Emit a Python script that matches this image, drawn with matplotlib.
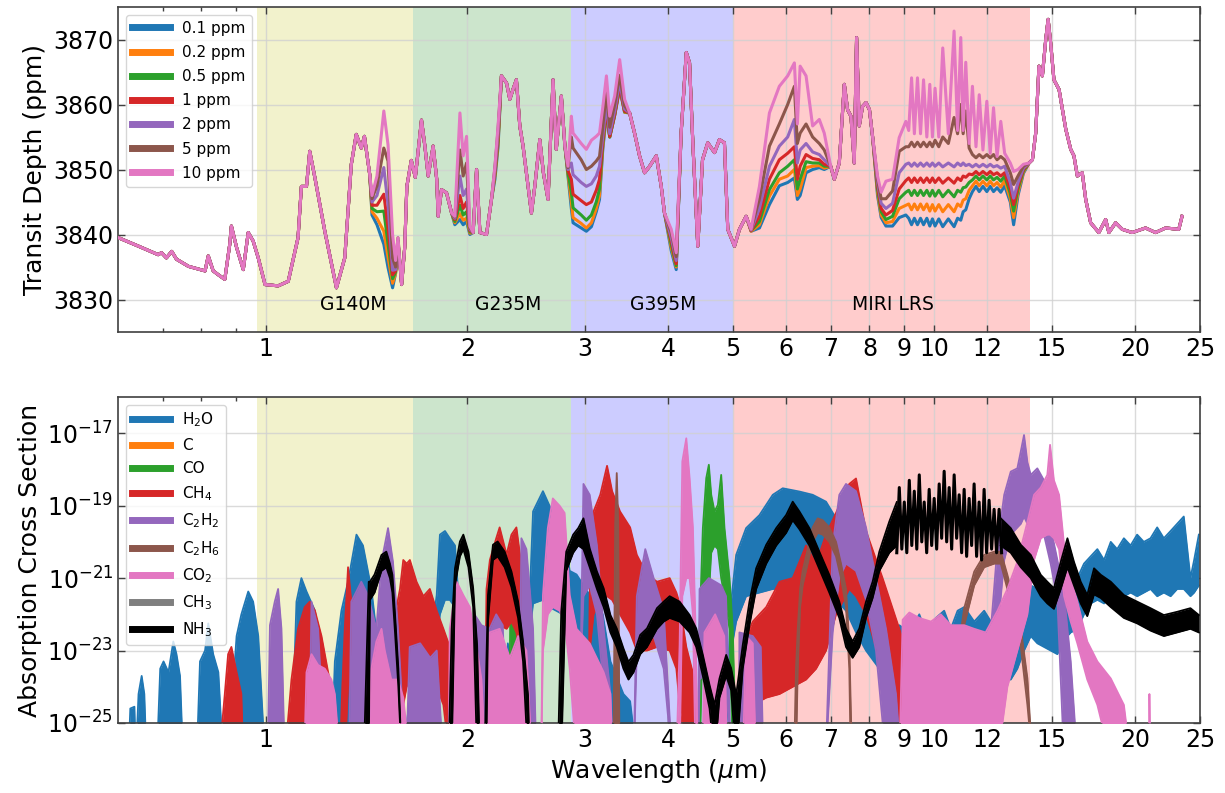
import numpy as np
import matplotlib
matplotlib.use('Agg')
import matplotlib.pyplot as plt
from matplotlib.lines import Line2D
from matplotlib.ticker import FixedLocator, FixedFormatter, NullFormatter, NullLocator

# ---------------- top panel: transit depth (ppm) ----------------
noise_labels = ['0.1 ppm', '0.2 ppm', '0.5 ppm', '1 ppm', '2 ppm', '5 ppm', '10 ppm']
noise_colors = ['#1f77b4', '#ff7f0e', '#2ca02c', '#d62728', '#9467bd', '#8c564b', '#e377c2']

# wavelengths where all seven spectra coincide
wl_common = [0.601, 0.644, 0.689, 0.697, 0.709, 0.722, 0.734, 0.765, 0.810, 0.819,
             0.833, 0.848, 0.867, 0.882, 0.887, 0.903, 0.924, 0.940, 0.956, 0.973,
             0.996, 1.042, 1.079, 1.116, 1.129, 1.149, 1.162, 1.183, 1.224, 1.274,
             1.311, 1.341, 1.364, 1.388, 1.403, 1.429,
             1.595, 1.612, 1.624, 1.649, 1.672, 1.708, 1.728, 1.748, 1.778, 1.800,
             1.809, 1.830, 1.862, 1.895,
             2.041, 2.065, 2.089, 2.137, 2.174,
             2.250, 2.290, 2.316, 2.341, 2.369, 2.397, 2.424, 2.466, 2.495, 2.524,
             2.568, 2.600, 2.642, 2.688, 2.718, 2.766, 2.800,
             3.500, 3.560, 3.622, 3.685, 3.750, 3.837, 3.903, 3.947,
             4.180, 4.255, 4.303, 4.352, 4.427, 4.500, 4.582, 4.690, 4.770, 4.853,
             4.909, 5.024, 5.111, 5.230,
             7.000, 7.087, 7.210, 7.336, 7.419, 7.506, 7.592, 7.653, 7.724, 7.812,
             7.906, 8.000, 8.086,
             13.87, 14.03, 14.19, 14.35, 14.52, 14.69, 14.81, 14.94, 15.11, 15.38,
             15.74, 16.01, 16.19, 16.38, 16.66, 16.86, 17.15, 17.64, 18.06, 18.26,
             18.69, 19.12, 19.79, 20.72, 21.45, 22.20, 23.24, 23.50]
depth_common = [3839.5, 3838.2, 3836.9, 3837.2, 3836.4, 3837.4, 3836.2, 3835.1, 3834.4, 3836.7,
                3834.4, 3833.8, 3833.1, 3838.5, 3841.3, 3838.0, 3834.6, 3840.3, 3839.0, 3836.4,
                3832.3, 3832.1, 3832.8, 3839.5, 3847.4, 3847.4, 3852.8, 3848.7, 3840.5, 3831.8,
                3836.4, 3850.8, 3855.4, 3853.3, 3855.1, 3849.2,
                3832.3, 3838.0, 3847.4, 3851.4, 3848.8, 3857.6, 3853.6, 3849.0, 3853.6, 3848.5,
                3842.8, 3846.9, 3846.4, 3843.3,
                3840.3, 3850.0, 3840.3, 3840.0, 3845.4,
                3864.4, 3863.3, 3860.8, 3862.3, 3863.8, 3856.7, 3853.6, 3847.4, 3843.3, 3847.4,
                3854.6, 3849.5, 3845.4, 3863.8, 3853.1, 3861.3, 3853.6,
                3858.7, 3855.6, 3852.1, 3849.5, 3850.5, 3852.1, 3847.4, 3843.3,
                3855.6, 3868.0, 3866.4, 3854.1, 3838.2, 3851.5, 3854.1, 3852.6, 3854.6, 3854.1,
                3840.8, 3838.2, 3840.8, 3842.8,
                3850.5, 3848.5, 3851.0, 3863.1, 3859.2, 3858.2, 3851.0, 3870.3, 3856.7, 3859.7,
                3860.3, 3859.2, 3855.1,
                3851.0, 3851.5, 3855.6, 3865.9, 3864.4, 3870.0, 3873.1, 3869.5, 3863.8, 3862.3,
                3856.2, 3853.1, 3852.1, 3849.0, 3849.5, 3845.4, 3841.8, 3840.3, 3842.3, 3840.3,
                3841.8, 3840.8, 3840.3, 3841.0, 3840.3, 3841.0, 3840.8, 3842.8]

# wavelengths where the spectra separate
wl_split = [1.440, 1.465, 1.500, 1.522, 1.546, 1.562, 1.575,
            1.916, 1.950, 1.972, 1.995, 2.018,
            2.200, 2.224,
            2.830, 2.863, 2.880, 2.962, 3.015, 3.068, 3.120, 3.155, 3.190, 3.231, 3.268, 3.324, 3.382, 3.440,
            4.040, 4.110,
            5.320, 5.475, 5.667, 5.864, 6.035, 6.176, 6.240, 6.300, 6.430, 6.577, 6.730, 6.846,
            8.226, 8.330, 8.468, 8.663, 8.864, 9.070,
            9.16, 9.25, 9.34, 9.44, 9.54, 9.64, 9.75, 9.85, 9.94, 10.03,
            10.16, 10.30, 10.50, 10.71, 10.84, 10.96, 11.05, 11.15, 11.28, 11.41,
            11.55, 11.68, 11.83, 11.99, 12.13, 12.27, 12.42, 12.58, 12.75, 13.00,
            13.15, 13.35, 13.60]

split_0p1 = [3843, 3841.5, 3838.5, 3834.9, 3831.8, 3834, 3839,
             3841.5, 3842.3, 3841.5, 3842, 3840,
             3848.5, 3853.5,
             3849, 3844, 3841.8, 3841, 3840.5, 3841.2, 3843.5, 3845.4, 3853, 3858.5, 3855, 3858.3, 3862.5, 3858.8,
             3837.5, 3834.6,
             3840.5, 3841, 3844.6, 3847.5, 3848, 3848.7, 3845.4, 3846, 3849.5, 3850, 3850.3, 3850,
             3846, 3842.6, 3841.3, 3841.3, 3842.6, 3843,
             3842.5, 3841.5, 3842.5, 3841.5, 3842.5, 3841.5, 3842.5, 3841.3, 3842.4, 3841.3,
             3842.4, 3841.2, 3842.4, 3841.2, 3842.5, 3842.2, 3843.5, 3843.8, 3845.5, 3846.6,
             3847.4, 3846.6, 3847.4, 3846.6, 3847.4, 3846.6, 3847.2, 3846.5, 3847.5, 3845,
             3841.5, 3846, 3849.4]
split_0p2 = [3843.5, 3842.5, 3840.5, 3836.5, 3832.5, 3834, 3839,
             3841.8, 3843.2, 3842.2, 3842.5, 3840.2,
             3849, 3854,
             3849.3, 3845, 3842.6, 3841.7, 3841, 3841.8, 3844, 3846, 3853.3, 3858.7, 3855, 3858.3, 3862.6, 3858.8,
             3838, 3835,
             3840.5, 3841.5, 3845.9, 3848.5, 3849, 3850, 3846, 3847, 3850.3, 3850.5, 3850.6, 3850.2,
             3846.5, 3843, 3841.8, 3842, 3844, 3844.5,
             3844.7, 3843.8, 3844.7, 3843.8, 3844.7, 3843.8, 3844.7, 3843.6, 3844.6, 3843.6,
             3844.6, 3843.5, 3844.6, 3843.5, 3844.7, 3844.3, 3845.3, 3845.5, 3846.8, 3847.5,
             3848.2, 3847.5, 3848.2, 3847.5, 3848.2, 3847.5, 3848, 3847.3, 3848.3, 3845.5,
             3842.6, 3846.5, 3849.6]
split_0p5 = [3844, 3843.5, 3843.6, 3838.5, 3833.2, 3834.2, 3839,
             3842, 3844.5, 3843, 3843.5, 3840.4,
             3849.3, 3854.5,
             3849.5, 3846.5, 3844.1, 3843, 3842.2, 3843, 3845, 3847, 3853.8, 3859, 3855, 3858.4, 3862.7, 3858.9,
             3838.5, 3835.2,
             3840.6, 3842, 3846.9, 3849.5, 3850.5, 3851.5, 3847, 3848.5, 3851.2, 3851, 3851, 3850.5,
             3847, 3843.5, 3842.3, 3842.8, 3845.5, 3846.5,
             3846.8, 3846, 3846.8, 3846, 3846.8, 3846, 3846.8, 3845.9, 3846.8, 3845.9,
             3846.8, 3845.8, 3846.8, 3845.8, 3846.8, 3846.5, 3847.2, 3847.3, 3848, 3848.4,
             3849, 3848.4, 3849, 3848.4, 3849, 3848.4, 3848.8, 3848.2, 3849, 3846.3,
             3843.6, 3847, 3849.8]
split_1 = [3844.5, 3844.5, 3846.2, 3841, 3833.8, 3834.4, 3839,
           3842.3, 3846, 3844, 3845, 3840.6,
           3849.6, 3855,
           3849.8, 3848.5, 3846.2, 3845.2, 3844.6, 3845, 3846.8, 3848.5, 3854.3, 3859.3, 3855.1, 3858.5, 3862.8, 3859,
           3839, 3835.5,
           3840.6, 3842.8, 3848.5, 3851.5, 3852.5, 3853.5, 3848.5, 3850.5, 3852.3, 3851.7, 3851.5, 3850.8,
           3847.5, 3844, 3843, 3843.7, 3847, 3848.3,
           3848.7, 3848, 3848.7, 3848, 3848.7, 3848, 3848.7, 3848, 3848.7, 3848,
           3848.7, 3847.9, 3848.7, 3847.9, 3848.7, 3848.3, 3849, 3848.8, 3849.3, 3849.2,
           3849.7, 3849.2, 3849.7, 3849.2, 3849.7, 3849.2, 3849.5, 3849, 3849.5, 3847,
           3844.6, 3847.5, 3850]
split_2 = [3845, 3846, 3850.3, 3844.5, 3834.5, 3834.6, 3839,
           3842.5, 3849, 3846, 3847, 3840.8,
           3850, 3855.5,
           3850, 3851, 3849.2, 3848, 3847.4, 3847.8, 3849, 3850.5, 3855, 3860, 3855.5, 3859, 3863.5, 3859.3,
           3839.5, 3836,
           3840.7, 3844, 3850.5, 3853.6, 3855, 3857.7, 3851, 3853, 3854, 3852.7, 3852.3, 3851.5,
           3848, 3844.8, 3844, 3844.8, 3849.5, 3850.8,
           3851, 3850.5, 3851, 3850.5, 3851, 3850.5, 3851, 3850.5, 3851, 3850.5,
           3851, 3850.4, 3851, 3850.4, 3851, 3850.6, 3851, 3850.6, 3850.8, 3850.4,
           3850.8, 3850.4, 3850.8, 3850.4, 3850.8, 3850.4, 3850.6, 3850.2, 3850.5, 3848,
           3845.6, 3848, 3850.2]
split_5 = [3845.5, 3847.5, 3853.3, 3851.3, 3836.4, 3835, 3839.5,
           3842.7, 3853, 3849, 3851, 3841,
           3850.3, 3856.2,
           3850.3, 3855, 3853.3, 3851.5, 3850, 3850.5, 3851.3, 3852, 3856.5, 3862, 3856.5, 3860, 3864.5, 3859.8,
           3840.3, 3836.6,
           3840.8, 3845.5, 3853.6, 3857, 3860, 3862.8, 3854, 3855.6, 3857, 3855, 3854, 3853,
           3848.5, 3845.5, 3845.5, 3846.7, 3852.8, 3853.5,
           3853.5, 3854.2, 3853.5, 3854.2, 3853.5, 3854.2, 3853.5, 3854.2, 3853.5, 3854.5,
           3853.5, 3855, 3854, 3858, 3855.5, 3860, 3855.5, 3859, 3853.3, 3852.3,
           3851.8, 3852.3, 3851.8, 3852.3, 3851.8, 3852.3, 3851.5, 3852, 3851.5, 3849.5,
           3847.7, 3849, 3850.5]
split_10 = [3846, 3849, 3859, 3853.8, 3840, 3836, 3839.5,
            3842.8, 3858.7, 3852.1, 3855.1, 3841.3,
            3850.5, 3856.7,
            3850.5, 3858.2, 3855.6, 3854, 3853.1, 3854.5, 3855.1, 3855.6, 3859.5, 3864.4, 3858.2, 3861.3, 3866.9, 3860.8,
            3840.8, 3837.2,
            3840.8, 3847.4, 3858.7, 3862.8, 3864.4, 3866.4, 3857, 3865.9, 3864.4, 3856.7, 3857.7, 3855.6,
            3849, 3846.5, 3848.2, 3848.5, 3854.9, 3857.4,
            3856, 3864.1, 3855.5, 3864.1, 3855.5, 3863.8, 3855, 3863.1, 3855, 3862.5,
            3855, 3868.7, 3855.5, 3871.3, 3856, 3870.3, 3856, 3866.5, 3854, 3862.8,
            3853.5, 3861.5, 3853, 3860.5, 3852.5, 3859.5, 3852, 3857.4, 3852.5, 3851,
            3849.7, 3850, 3850.8]
split_series = [split_0p1, split_0p2, split_0p5, split_1, split_2, split_5, split_10]

band_edges = [0.97, 1.66, 2.86, 5.0, 13.9]
band_colors = ['y', 'g', 'b', 'r']
band_names = ['G140M', 'G235M', 'G395M', 'MIRI LRS']
band_label_x = [1.35, 2.30, 3.93, 8.66]

# ---------------- bottom panel: log10 cross sections ----------------
F = -26.0  # below the axis floor

h2o_wl = [0.600, 0.622, 0.626, 0.635, 0.638, 0.644, 0.651, 0.657, 0.662, 0.686,
          0.694, 0.702, 0.714, 0.726, 0.734, 0.743, 0.751, 0.787, 0.796, 0.810,
          0.819, 0.833, 0.848, 0.862, 0.882, 0.893, 0.903, 0.918, 0.940, 0.956,
          0.973, 0.996, 1.091, 1.110, 1.129, 1.149, 1.183, 1.210, 1.252, 1.267,
          1.296, 1.326, 1.365, 1.396, 1.437, 1.470, 1.505, 1.600, 1.679, 1.758,
          1.800, 1.820, 1.852, 1.883, 1.917, 1.939, 1.960, 2.000, 2.270, 2.300,
          2.340, 2.380, 2.460, 2.481, 2.509, 2.596, 2.655, 2.718, 2.781, 2.847,
          2.915, 3.050, 3.190, 3.276, 3.426, 3.506, 3.588, 4.850, 4.967, 5.053,
          5.229, 5.476, 5.733, 5.933, 6.284, 6.578, 6.888, 7.130, 7.379, 7.638,
          7.906, 8.277, 8.665, 8.867, 9.18, 9.50, 9.77, 10.06, 10.35, 10.59,
          10.84, 11.09, 11.48, 11.88, 12.16, 12.44, 12.73, 13.02, 13.32, 13.63,
          13.95, 14.27, 14.60, 14.94, 15.29, 15.65, 16.01, 16.38, 16.76, 17.15,
          17.55, 17.96, 18.38, 18.79, 19.23, 19.68, 20.13, 20.60, 21.08, 21.57,
          22.07, 22.59, 23.11, 23.64, 24.19, 24.50, 24.90]
h2o_hi = [F, F, -24.6, -24.55, F, -24.2, -23.7, -24.2, F, F,
          -23.5, -23.3, -23.6, -22.75, -23.1, -23.7, F, F, -23.3, -23.0,
          -22.25, -23.1, -23.6, F, F, -23.9, -22.6, -22.0, -21.37, -21.65,
          -22.6, F, F, -21.65, -21.0, -21.37, -21.9, -23.1, F, -23.3,
          -21.9, -21.1, -19.8, -20.1, -21.3, -22.85, -24.2, F, -22.75, -22.9,
          -21.47, -19.8, -19.7, -19.9, -20.1, -21.47, -23.5, F, F, -22.8,
          -23.5, F, F, -21.47, -19.16, -18.6, -19.0, -19.45, -19.6, -20.8,
          -20.9, -21.47, -22.0, -23.3, -24.2, -24.4, F, F, -21.65, -20.36,
          -19.62, -19.26, -18.7, -18.52, -18.61, -18.7, -18.89, -19.35, -20.08, -21.0,
          -21.65, -22.2, -22.85, -22.3, -22.5, -22.0, -22.6, -22.1, -21.9, -22.4,
          -21.9, -21.8, -22.2, -21.9, -22.2, -21.9, -21.9, -22.3, -21.8, -21.5,
          -21.2, -21.3, -21.1, -21.5, -21.6, -21.2, -20.8, -21.0, -20.6, -20.4,
          -20.2, -20.5, -20.0, -20.2, -19.9, -20.1, -19.8, -20.0, -19.9, -19.6,
          -19.9, -19.7, -19.5, -19.3, -21.0, -20.5, -19.8]
h2o_lo = [F] * 50 + [
          -22.8, -22.0, -21.6, -21.6, -21.8, -22.6, F, F, F, F,
          F, F, F, -22.5, -21.7, -21.6, -21.8, -21.9, -22.0, -22.4,
          -23.2, -23.3, -23.5, F, F, F, F, F, -23.0, -22.2,
          -21.5, -21.4, -21.3, -21.3, -21.3, -21.3, -21.4, -21.6, -21.9, -22.5,
          -23.0, -23.5, -23.8, -24.0, -24.3, -24.5, -24.6, -24.4, -24.5, -24.6,
          -24.4, -24.3, -24.5, -24.3, -24.2, -24.0, -23.8, -23.8, -23.5, -23.0,
          -22.6, -22.8, -22.9, -23.0, -23.1, -22.7, -22.5, -22.4, -22.0, -21.7,
          -21.6, -21.7, -21.5, -21.6, -21.5, -21.4, -21.5, -21.4, -21.3, -21.5,
          -21.4, -21.5, -21.3, -21.3, -21.5, -21.4, -21.2]

c_wl, c_hi, c_lo = [], [], []
ch3_wl, ch3_hi, ch3_lo = [], [], []

co_wl = [2.310, 2.320, 2.342, 2.369, 2.410, 2.430, 4.430, 4.454, 4.505, 4.558,
         4.599, 4.637, 4.690, 4.744, 4.799, 4.854, 4.938, 4.994, 5.053]
co_hi = [F, -21.65, -21.7, -22.6, -24.2, F, F, -22.4, -19.62, -18.24,
         -17.87, -18.7, -19.16, -18.98, -18.15, -19.62, -21.0, -22.39, F]
co_lo = [F, F, F, F, F, F, F, F, -22.5, -21.5,
         -21.47, -20.3, -20.1, -20.2, -21.0, -21.5, -22.4, F, F]

ch4_wl = [0.850, 0.867, 0.877, 0.887, 0.903, 0.918, 0.924, 1.066, 1.091, 1.116,
          1.142, 1.162, 1.183, 1.210, 1.238, 1.267, 1.289, 1.300, 1.311, 1.326,
          1.341, 1.365, 1.388, 1.412, 1.437, 1.470, 1.520, 1.560, 1.586, 1.604,
          1.623, 1.641, 1.679, 1.719, 1.758, 1.800, 1.842, 1.883, 1.930, 2.120,
          2.137, 2.162, 2.210, 2.236, 2.290, 2.329, 2.369, 2.424, 2.481, 2.520,
          3.030, 3.050, 3.091, 3.163, 3.238, 3.295, 3.386, 3.506, 3.588, 3.716,
          3.846, 4.018, 4.112, 4.158, 4.255, 4.378, 4.428, 5.110, 5.169, 5.351,
          5.605, 5.867, 6.141, 6.430, 6.656, 6.888, 7.130, 7.463, 7.638, 7.906,
          8.370, 8.867, 9.180, 9.720]
ch4_hi = [F, -24.2, -23.1, -22.9, -23.6, -24.2, F, F, -23.8, -22.4,
          -21.8, -21.65, -21.9, -22.6, -23.6, -24.5, F, -24.0, -22.4, -20.7,
          -21.65, -21.5, -21.9, -21.65, -22.4, -22.6, -22.8, -22.0, -21.3, -20.5,
          -20.6, -20.5, -21.1, -21.5, -21.3, -21.9, -22.4, -22.9, F, F,
          -21.3, -20.5, -19.9, -19.6, -20.35, -19.8, -19.6, -21.0, -21.93, F,
          F, -21.47, -19.16, -18.7, -17.9, -18.6, -19.16, -19.6, -20.36, -20.9,
          -21.1, -21.0, -21.4, -21.7, -22.9, -23.8, F, F, -22.85, -22.2,
          -21.8, -21.1, -21.0, -20.1, -20.6, -19.8, -19.2, -18.4, -18.25, -19.7,
          -21.0, -22.4, -23.3, F]
ch4_lo = [F, F, F, F, F, F, F, F, F, F,
          -25.0, -24.8, -24.8, -25.0, F, F, F, F, F, -24.0,
          -23.8, -23.6, -23.8, -24.0, -24.5, F, F, F, -25.0, -24.5,
          -24.0, -23.8, -23.5, -23.6, -23.8, -24.0, -24.5, F, F, F,
          -24.0, -23.0, -22.5, -22.3, -22.4, -22.2, -22.5, -23.5, F, F,
          F, -23.0, -22.0, -21.6, -21.5, -21.6, -22.0, -22.5, -23.0, -23.0,
          -22.9, -23.0, -23.5, -24.5, F, F, F, F, F, -24.5,
          -24.3, -24.2, -24.0, -23.8, -23.5, -23.0, -22.0, -21.3, -21.5, -22.0,
          -23.5, -25.0, F, F]

c2h2_wl = [1.005, 1.013, 1.030, 1.042, 1.054, 1.066, 1.160, 1.169, 1.196, 1.210,
           1.224, 1.330, 1.341, 1.388, 1.420, 1.462, 1.488, 1.522, 1.548, 1.575,
           1.595, 1.620, 1.640, 1.700, 1.760, 1.800, 1.840, 2.030, 2.050, 2.100,
           2.160, 2.210, 2.260, 2.300, 2.390, 2.410, 2.452, 2.509, 2.538, 2.940,
           2.967, 2.985, 3.050, 3.127, 3.200, 3.276, 3.310, 3.550, 3.588, 3.694,
           3.802, 3.936, 4.050, 4.430, 4.454, 4.600, 4.800, 4.880, 4.960, 5.100,
           5.110, 5.350, 5.500, 5.550, 6.880, 7.047, 7.211, 7.379, 7.638, 7.906,
           8.182, 8.470, 8.766, 8.920, 11.50, 11.88, 12.16, 12.44, 12.73, 13.02,
           13.32, 13.48, 13.63, 13.79, 13.95, 14.27, 14.60, 14.94, 15.29, 15.65,
           16.01, 16.38]
c2h2_hi = [F, -22.3, -21.65, -21.3, -22.4, F, F, -21.65, -22.4, -24.2,
           F, F, -21.65, -21.1, -21.47, -22.4, -20.55, -19.62, -20.55, -22.4,
           -24.2, F, -22.9, -22.8, -23.2, -23.0, F, F, -22.0, -22.3,
           -22.4, -22.0, -22.3, F, F, -19.9, -20.2, -22.4, F, F,
           -21.47, -18.4, -18.7, -20.1, -22.4, -24.2, F, F, -21.5, -20.2,
           -21.0, -21.9, F, F, -21.3, -21.0, -21.2, -21.5, F, F,
           -22.5, -22.6, -22.9, F, F, -20.1, -18.7, -18.4, -18.6, -19.6,
           -21.0, -22.4, -24.2, F, F, -24.2, -22.4, -20.1, -18.7, -18.06,
           -17.97, -17.5, -17.05, -17.8, -18.15, -17.97, -18.3, -19.6, -20.5, -21.47,
           -23.3, F]
c2h2_lo = [F, F, F, F, F, F, F, F, F, F,
           F, F, F, F, F, F, F, F, F, F,
           F, F, F, F, F, F, F, F, F, F,
           F, F, F, F, F, F, F, F, F, F,
           -22.8, -21.5, -21.2, -22.0, -24.0, F, F, F, -23.0, -22.4,
           -22.6, -23.5, F, F, -23.8, -23.5, -23.5, -23.8, F, F,
           F, F, F, F, F, -22.5, -21.0, -20.6, -20.8, -21.6,
           -23.0, F, F, F, F, F, F, -22.5, -20.5, -19.8,
           -19.6, -19.5, -19.3, -19.5, -19.6, -19.5, -19.8, -20.6, -21.6, F,
           F, F]

c2h6_wl = [3.310, 3.330, 3.348, 3.365, 3.380, 6.170, 6.210, 6.248, 6.300, 6.355,
           6.466, 6.578, 6.693, 6.808, 6.966, 7.130, 7.253, 7.379, 7.463, 7.500,
           7.534, 10.55, 10.70, 10.84, 11.09, 11.48, 11.88, 12.30, 12.58, 12.87,
           13.17, 13.48, 13.79, 14.03]
c2h6_hi = [F, -19.5, -18.1, -19.5, F, F, -23.5, -22.4, -21.3, -20.8,
           -20.2, -19.6, -19.35, -19.4, -19.6, -20.0, -20.6, -21.3, -22.8, -24.5,
           F, F, -24.0, -23.1, -21.83, -20.82, -20.36, -20.27, -20.27, -20.91,
           -21.65, -22.39, -23.77, F]
c2h6_lo = [F, F, F, F, F, F, F, -23.5, -21.8, -21.2,
           -20.6, -20.0, -19.75, -19.8, -20.0, -20.4, -21.0, -21.8, -23.5, F,
           F, F, F, -23.8, -22.3, -21.2, -20.7, -20.6, -20.6, -21.3,
           -22.1, -22.9, -24.5, F]

co2_wl = [1.140, 1.149, 1.169, 1.196, 1.224, 1.252, 1.267, 1.289, 1.420, 1.437,
          1.462, 1.488, 1.505, 1.539, 1.575, 1.604, 1.640, 1.874, 1.883, 1.928,
          1.973, 2.018, 2.065, 2.100, 2.130, 2.160, 2.236, 2.316, 2.383, 2.452,
          2.500, 2.580, 2.596, 2.640, 2.686, 2.749, 2.797, 2.847, 2.915, 3.050,
          3.200, 3.276, 3.300, 4.112, 4.158, 4.197, 4.255, 4.304, 4.353, 4.393,
          4.428, 4.500, 4.530, 4.700, 4.850, 4.900, 5.170, 5.230, 5.350, 5.410,
          8.870, 8.970, 9.180, 9.500, 9.890, 10.23, 10.59, 11.09, 11.48, 11.94,
          12.44, 12.87, 13.32, 13.79, 14.11, 14.44, 14.77, 14.91, 15.11, 15.38,
          15.65, 16.01, 16.38, 16.95, 17.55, 18.38, 19.23, 19.68, 20.95, 21.00,
          21.08]
co2_hi = [F, -23.6, -23.1, -23.4, -23.5, -23.8, -24.2, F, F, -23.5,
          -22.75, -22.4, -23.0, -23.8, -23.8, -24.3, F, F, -22.4, -21.1,
          -21.47, -21.8, -22.9, -23.8, F, -22.5, -22.4, -23.2, -22.6, -23.0,
          F, F, -21.47, -19.62, -18.8, -19.0, -19.2, -21.47, -22.4, -22.8,
          -23.6, -24.2, F, F, -22.85, -17.78, -17.14, -18.24, -19.6, -22.4,
          F, F, -22.5, -22.0, -22.6, F, F, -22.6, -22.8, F,
          F, -22.15, -21.95, -22.1, -22.2, -22.0, -22.3, -22.3, -22.4, -22.5,
          -21.9, -21.3, -20.55, -19.45, -18.7, -18.5, -18.15, -17.32, -18.3, -18.7,
          -20.1, -21.0, -21.65, -22.75, -23.3, -23.77, -24.5, F, F, -24.2,
          F]
co2_lo = [F, F, F, F, F, F, F, F, F, F,
          F, F, F, F, F, F, F, F, F, F,
          F, F, F, F, F, F, F, F, F, F,
          F, F, -23.0, -22.0, -21.8, -21.9, -22.2, -23.5, F, F,
          F, F, F, F, F, -21.5, -21.0, -21.0, -22.0, F,
          F, F, F, F, F, F, F, F, F, F,
          F, F, F, F, F, F, F, F, F, F,
          F, -24.0, -23.0, -22.0, -20.5, -19.9, -19.8, -19.8, -19.9, -20.2,
          -21.5, -22.2, -22.8, -23.8, -24.5, F, F, F, F, F,
          F]

nh3_wl = [1.400, 1.424, 1.430, 1.453, 1.488, 1.513, 1.532, 1.545, 1.559, 1.577,
          1.595, 1.875, 1.895, 1.917, 1.950, 1.973, 2.008, 2.041, 2.069, 2.089,
          2.124, 2.135, 2.148, 2.185, 2.221, 2.275, 2.329, 2.383, 2.424, 2.466,
          2.481, 2.733, 2.765, 2.813, 2.881, 2.932, 2.985, 3.050, 3.127, 3.200,
          3.276, 3.348, 3.426, 3.486, 3.547, 3.630, 3.716, 3.846, 3.936, 4.018,
          4.158, 4.304, 4.403, 4.505, 4.610, 4.690, 4.771, 4.882, 4.967, 5.053,
          5.169, 5.290, 5.414, 5.605, 5.801, 6.003, 6.141, 6.284, 6.504, 6.731,
          6.966, 7.211, 7.379, 7.549, 7.726, 7.906, 8.088, 8.277, 8.566, 8.790]
nh3_hi = [F, -21.1, -21.1, -20.9, -20.36, -20.27, -20.6, -20.91, -22.0, -23.5,
          F, F, -22.4, -20.73, -19.99, -19.8, -20.27, -21.28, -22.85, F,
          F, -23.5, -21.47, -20.08, -19.99, -20.27, -20.82, -21.65, -22.75, -24.23,
          F, F, -21.93, -20.27, -19.8, -19.62, -19.35, -20.18, -20.82, -21.28,
          -22.02, -22.39, -22.94, -23.31, -23.12, -22.57, -22.39, -21.83, -21.65, -21.5,
          -21.65, -22.02, -22.39, -23.12, -23.95, -24.5, -23.77, -23.12, -23.49, -24.23,
          -22.85, -21.65, -20.73, -20.08, -19.62, -19.26, -18.89, -19.16, -19.62, -20.27,
          -20.91, -21.65, -22.39, -22.75, -22.39, -21.65, -21.1, -20.27, -19.44, -18.9]
nh3_lo = [F, F, -21.6, -21.4, -20.8, -20.7, -21.0, -21.4, -22.5, -24.0,
          F, F, F, -21.2, -20.4, -20.2, -20.7, -21.8, F, F,
          F, F, -22.2, -20.5, -20.4, -20.7, -21.25, -22.1, -23.3, F,
          F, F, F, -20.8, -20.3, -20.1, -20.2, -20.7, -21.3, -21.8,
          -22.5, -22.9, -23.5, -23.8, -23.6, -23.1, -22.9, -22.4, -22.2, -22.1,
          -22.2, -22.5, -22.9, -23.7, -24.6, F, -24.3, -23.7, -24.1, F,
          -23.5, -22.3, -21.3, -20.6, -20.1, -19.75, -19.4, -19.65, -20.1, -20.75,
          -21.4, -22.1, -22.9, -23.2, -22.9, -22.1, -21.55, -20.8, -20.3, -20.1]

# NH3 rotation-line comb between 8.8 and 12.6 um (peaks and troughs)
nh3_comb_wl = [8.790, 8.867, 8.944, 9.021, 9.099, 9.178, 9.257, 9.337, 9.418, 9.499,
               9.581, 9.662, 9.745, 9.829, 9.914, 10.00, 10.086, 10.174, 10.261, 10.350,
               10.440, 10.530, 10.621, 10.713, 10.805, 10.899, 10.993, 11.088, 11.184, 11.280,
               11.378, 11.476, 11.575, 11.675, 11.776, 11.878, 11.981, 12.084, 12.189, 12.294,
               12.400, 12.508, 12.616]
nh3_comb = [-20.3, -18.5, -20.2, -18.9, -20.3, -18.3, -20.1, -18.6, -20.2, -18.15,
            -20.0, -18.9, -20.3, -18.55, -20.1, -18.8, -20.2, -18.4, -19.9, -18.05,
            -20.0, -18.5, -20.2, -18.15, -19.9, -18.7, -20.3, -18.55, -20.4, -18.8,
            -20.1, -18.4, -20.4, -18.9, -20.5, -18.55, -20.3, -18.85, -20.2, -19.1,
            -20.3, -19.1, -20.3]

nh3b_wl = [12.58, 13.02, 13.48, 13.95, 14.44, 14.77, 15.11, 15.47, 15.83, 16.19,
           16.57, 16.95, 17.35, 17.76, 18.38, 19.23, 20.13, 21.08, 22.07, 23.11,
           24.19, 24.90]
nh3b_hi = [-19.35, -19.62, -20.08, -20.36, -20.91, -21.1, -21.28, -20.55, -19.9, -20.55,
           -21.1, -21.47, -20.73, -20.91, -21.1, -21.47, -21.65, -21.83, -22.02, -21.93,
           -21.83, -22.02]
nh3b_lo = [-20.1, -20.3, -20.7, -21.0, -21.5, -21.7, -21.85, -21.3, -20.7, -21.2,
           -21.7, -22.05, -21.45, -21.55, -21.8, -22.1, -22.25, -22.45, -22.6, -22.5,
           -22.4, -22.5]

species = [
    (r'H$_2$O', '#1f77b4', [(h2o_wl, h2o_hi, h2o_lo)]),
    ('C', '#ff7f0e', [(c_wl, c_hi, c_lo)]),
    ('CO', '#2ca02c', [(co_wl, co_hi, co_lo)]),
    (r'CH$_4$', '#d62728', [(ch4_wl, ch4_hi, ch4_lo)]),
    (r'C$_2$H$_2$', '#9467bd', [(c2h2_wl, c2h2_hi, c2h2_lo)]),
    (r'C$_2$H$_6$', '#8c564b', [(c2h6_wl, c2h6_hi, c2h6_lo)]),
    (r'CO$_2$', '#e377c2', [(co2_wl, co2_hi, co2_lo)]),
    (r'CH$_3$', '#7f7f7f', [(ch3_wl, ch3_hi, ch3_lo)]),
    (r'NH$_3$', 'black', [(nh3_wl, nh3_hi, nh3_lo), (nh3b_wl, nh3b_hi, nh3b_lo)]),
]

# ---------------- figure ----------------
W, H = 1225, 793
fig = plt.figure(figsize=(W / 100, H / 100), dpi=100)
ax1 = fig.add_axes([118 / W, 1 - 332 / H, 1082 / W, 325 / H])
ax2 = fig.add_axes([118 / W, 1 - 723 / H, 1082 / W, 326 / H])

FS_TICK = 17
FS_LAB = 18
spine_c = '0.25'

major_x = [1, 2, 3, 4, 5, 6, 7, 8, 9, 10, 12, 15, 20, 25]
for ax in (ax1, ax2):
    ax.set_xscale('log')
    ax.set_xlim(0.6, 25)
    for lo_, hi_, c in zip(band_edges[:-1], band_edges[1:], band_colors):
        ax.axvspan(lo_, hi_, color=c, alpha=0.2, lw=0, zorder=0)
    ax.xaxis.set_major_locator(FixedLocator(major_x))
    ax.xaxis.set_major_formatter(FixedFormatter([str(v) for v in major_x]))
    ax.xaxis.set_minor_locator(FixedLocator([0.7, 0.8, 0.9]))
    ax.xaxis.set_minor_formatter(NullFormatter())
    ax.grid(True, which='major', color='0.82', lw=1.0, alpha=0.8)
    ax.set_axisbelow(True)
    ax.tick_params(which='both', direction='in', top=True, right=True,
                   labelsize=FS_TICK, color=spine_c, width=1.0)
    ax.tick_params(which='major', length=5)
    ax.tick_params(which='minor', length=3)
    for s in ax.spines.values():
        s.set_color(spine_c)
        s.set_linewidth(1.2)

# top panel
handles_top = []
for lab, col, sp in zip(noise_labels, noise_colors, split_series):
    wl = np.array(wl_common + wl_split)
    dp = np.array(depth_common + sp)
    order = np.argsort(wl)
    ax1.plot(wl[order], dp[order], color=col, lw=2.2, zorder=3)
    handles_top.append(Line2D([], [], color=col, lw=5))
ax1.set_ylim(3825, 3875)
ax1.set_yticks([3830, 3840, 3850, 3860, 3870])
ax1.set_ylabel('Transit Depth (ppm)', fontsize=FS_LAB)
for name, xp in zip(band_names, band_label_x):
    ax1.text(xp, 3829.2, name, ha='center', va='center', fontsize=13.5, zorder=5)
ax1.legend(handles_top, noise_labels, loc='upper left', fontsize=11,
           handlelength=2.5, labelspacing=0.6, framealpha=0.8, edgecolor='0.8')

# bottom panel
handles_bot = []
z = 2
for lab, col, segs in species:
    for wl, hi, lo in segs:
        if len(wl) == 0:
            continue
        wl = np.array(wl)
        hi = 10.0 ** np.array(hi)
        lo = 10.0 ** np.array(lo)
        ax2.fill_between(wl, lo, hi, color=col, lw=0, zorder=z)
        ax2.plot(wl, hi, color=col, lw=1.3, zorder=z)
        ax2.plot(wl, lo, color=col, lw=1.3, zorder=z)
    if lab == r'NH$_3$':
        ax2.plot(nh3_comb_wl, 10.0 ** np.array(nh3_comb), color=col, lw=2.2, zorder=z)
    handles_bot.append(Line2D([], [], color=col, lw=5))
    z += 0.1

ax2.set_yscale('log')
ax2.set_ylim(1e-25, 1e-16)
ax2.yaxis.set_major_locator(FixedLocator([1e-25, 1e-23, 1e-21, 1e-19, 1e-17]))
ax2.yaxis.set_minor_locator(NullLocator())
ax2.set_ylabel('Absorption Cross Section', fontsize=FS_LAB)
ax2.set_xlabel(r'Wavelength ($\mu$m)', fontsize=FS_LAB)
ax2.legend(handles_bot, [s[0] for s in species], loc='upper left', fontsize=11,
           handlelength=2.5, labelspacing=0.55, framealpha=0.8, edgecolor='0.8')

fig.savefig('out.png', dpi=100)
